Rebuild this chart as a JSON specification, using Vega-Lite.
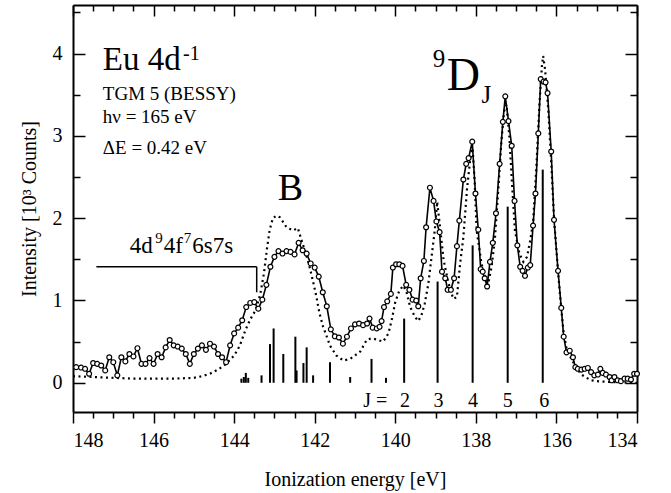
{
  "$schema": "https://vega.github.io/schema/vega-lite/v6.json",
  "width": 564,
  "height": 407,
  "autosize": {"type": "none"},
  "padding": {"left": 73, "top": 5, "right": 34, "bottom": 81},
  "background": "white",
  "config": {
    "view": {"stroke": null},
    "axis": {"labelFont": "Liberation Serif", "titleFont": "Liberation Serif", "labelFontSize": 20, "titleFontSize": 20, "titleFontWeight": "normal", "labelColor": "black", "titleColor": "black", "tickColor": "black", "tickWidth": 1.5, "domain": true, "domainColor": "black", "domainWidth": 2, "grid": false},
    "text": {"font": "Liberation Serif", "color": "black"}
  },
  "datasets": {
    "measured": [
      {"E":147.92,"I":0.19},{"E":147.8,"I":0.185},{"E":147.7,"I":0.17},{"E":147.6,"I":0.11},{"E":147.5,"I":0.24},{"E":147.4,"I":0.23},{"E":147.3,"I":0.21},{"E":147.2,"I":0.15},{"E":147.1,"I":0.31},{"E":147.0,"I":0.25},
      {"E":146.9,"I":0.09},{"E":146.8,"I":0.31},{"E":146.7,"I":0.26},{"E":146.6,"I":0.35},{"E":146.5,"I":0.32},{"E":146.4,"I":0.42},{"E":146.3,"I":0.23},{"E":146.2,"I":0.23},{"E":146.1,"I":0.30},{"E":146.0,"I":0.23},
      {"E":145.9,"I":0.35},{"E":145.8,"I":0.31},{"E":145.7,"I":0.43},{"E":145.6,"I":0.52},{"E":145.5,"I":0.455},{"E":145.4,"I":0.44},{"E":145.3,"I":0.415},{"E":145.2,"I":0.35},{"E":145.1,"I":0.23},{"E":145.0,"I":0.35},
      {"E":144.9,"I":0.415},{"E":144.8,"I":0.455},{"E":144.7,"I":0.40},{"E":144.6,"I":0.475},{"E":144.5,"I":0.44},{"E":144.4,"I":0.35},{"E":144.3,"I":0.31},{"E":144.2,"I":0.25},{"E":144.1,"I":0.455},{"E":144.0,"I":0.60},
      {"E":143.9,"I":0.67},{"E":143.8,"I":0.76},{"E":143.7,"I":0.92},{"E":143.6,"I":0.97},{"E":143.5,"I":0.98},{"E":143.4,"I":0.90},{"E":143.3,"I":1.01},{"E":143.2,"I":1.19},{"E":143.1,"I":1.41},{"E":143.0,"I":1.53},
      {"E":142.9,"I":1.60},{"E":142.8,"I":1.57},{"E":142.7,"I":1.60},{"E":142.6,"I":1.59},{"E":142.5,"I":1.56},{"E":142.4,"I":1.70},{"E":142.3,"I":1.61},{"E":142.2,"I":1.57},{"E":142.1,"I":1.45},{"E":142.0,"I":1.40},
      {"E":141.9,"I":1.29},{"E":141.8,"I":1.10},{"E":141.7,"I":0.93},{"E":141.6,"I":0.65},{"E":141.5,"I":0.565},{"E":141.4,"I":0.55},{"E":141.3,"I":0.475},{"E":141.2,"I":0.56},{"E":141.1,"I":0.66},{"E":141.0,"I":0.71},
      {"E":140.9,"I":0.72},{"E":140.8,"I":0.70},{"E":140.7,"I":0.72},{"E":140.64,"I":0.78},{"E":140.56,"I":0.67},{"E":140.46,"I":0.66},{"E":140.39,"I":0.68},{"E":140.34,"I":0.75},{"E":140.28,"I":0.92},{"E":140.2,"I":0.99},
      {"E":140.11,"I":1.08},{"E":140.06,"I":1.40},{"E":139.98,"I":1.44},{"E":139.9,"I":1.44},{"E":139.82,"I":1.42},{"E":139.73,"I":1.19},{"E":139.65,"I":1.13},{"E":139.57,"I":1.01},{"E":139.48,"I":1.00},{"E":139.43,"I":0.93},
      {"E":139.37,"I":1.27},{"E":139.29,"I":1.48},{"E":139.235,"I":1.89},{"E":139.14,"I":2.37},{"E":139.05,"I":2.21},{"E":138.98,"I":1.96},{"E":138.9,"I":1.83},{"E":138.84,"I":1.35},{"E":138.76,"I":1.27},{"E":138.7,"I":1.13},
      {"E":138.62,"I":1.13},{"E":138.54,"I":1.27},{"E":138.47,"I":1.66},{"E":138.41,"I":1.97},{"E":138.31,"I":2.47},{"E":138.24,"I":2.66},{"E":138.18,"I":2.73},{"E":138.09,"I":2.93},{"E":138.01,"I":2.30},{"E":137.94,"I":1.86},
      {"E":137.88,"I":1.38},{"E":137.83,"I":1.35},{"E":137.78,"I":1.27},{"E":137.72,"I":1.17},{"E":137.65,"I":1.47},{"E":137.58,"I":1.70},{"E":137.5,"I":2.06},{"E":137.41,"I":2.66},{"E":137.33,"I":3.17},{"E":137.27,"I":3.48},
      {"E":137.19,"I":3.18},{"E":137.11,"I":2.88},{"E":137.04,"I":2.21},{"E":136.97,"I":1.67},{"E":136.9,"I":1.41},{"E":136.84,"I":1.36},{"E":136.78,"I":1.30},{"E":136.71,"I":1.40},{"E":136.65,"I":1.43},{"E":136.58,"I":1.91},
      {"E":136.52,"I":2.30},{"E":136.45,"I":3.03},{"E":136.39,"I":3.69},{"E":136.32,"I":3.66},{"E":136.27,"I":3.65},{"E":136.22,"I":3.52},{"E":136.13,"I":2.81},{"E":136.06,"I":1.98},{"E":135.96,"I":1.36},{"E":135.88,"I":0.91},
      {"E":135.82,"I":0.56},{"E":135.75,"I":0.37},{"E":135.67,"I":0.39},{"E":135.59,"I":0.31},{"E":135.53,"I":0.19},{"E":135.47,"I":0.17},{"E":135.38,"I":0.16},{"E":135.3,"I":0.17},{"E":135.22,"I":0.18},{"E":135.14,"I":0.13},
      {"E":135.06,"I":0.09},{"E":134.97,"I":0.10},{"E":134.91,"I":0.17},{"E":134.85,"I":0.12},{"E":134.77,"I":0.10},{"E":134.68,"I":0.07},{"E":134.63,"I":0.03},{"E":134.56,"I":0.07},{"E":134.48,"I":0.03},{"E":134.4,"I":0.02},
      {"E":134.31,"I":0.05},{"E":134.23,"I":0.05},{"E":134.15,"I":0.04},{"E":134.07,"I":0.11},{"E":134.0,"I":0.11}
    ],
    "theory": [
      {"E":148,"I":0.08},{"E":147.5,"I":0.07},{"E":147,"I":0.06},{"E":146.5,"I":0.05},{"E":146,"I":0.05},{"E":145.5,"I":0.05},{"E":145,"I":0.06},{"E":144.8,"I":0.08},{"E":144.6,"I":0.11},{"E":144.4,"I":0.16},
      {"E":144.2,"I":0.23},{"E":144.0,"I":0.33},{"E":143.86,"I":0.45},{"E":143.72,"I":0.64},{"E":143.6,"I":0.77},{"E":143.47,"I":0.88},{"E":143.35,"I":1.08},{"E":143.26,"I":1.33},{"E":143.18,"I":1.65},{"E":143.12,"I":1.85},
      {"E":143.04,"I":2.0},{"E":142.95,"I":2.03},{"E":142.86,"I":2.01},{"E":142.78,"I":1.95},{"E":142.7,"I":1.89},{"E":142.54,"I":1.85},{"E":142.42,"I":1.88},{"E":142.3,"I":1.69},{"E":142.17,"I":1.49},{"E":142.05,"I":1.25},
      {"E":141.96,"I":1.05},{"E":141.88,"I":0.84},{"E":141.79,"I":0.68},{"E":141.7,"I":0.56},{"E":141.62,"I":0.45},{"E":141.46,"I":0.33},{"E":141.29,"I":0.27},{"E":141.12,"I":0.29},{"E":140.95,"I":0.35},{"E":140.87,"I":0.38},
      {"E":140.71,"I":0.52},{"E":140.6,"I":0.54},{"E":140.5,"I":0.53},{"E":140.3,"I":0.50},{"E":140.17,"I":0.60},{"E":140.09,"I":0.76},{"E":140.0,"I":0.98},{"E":139.9,"I":1.12},{"E":139.8,"I":1.18},{"E":139.72,"I":1.10},
      {"E":139.63,"I":0.92},{"E":139.51,"I":0.80},{"E":139.43,"I":0.75},{"E":139.35,"I":0.82},{"E":139.27,"I":0.96},{"E":139.18,"I":1.20},{"E":139.1,"I":1.53},{"E":139.02,"I":1.85},{"E":138.96,"I":2.2},{"E":138.88,"I":1.85},
      {"E":138.8,"I":1.49},{"E":138.68,"I":1.21},{"E":138.56,"I":1.02},{"E":138.47,"I":1.04},{"E":138.39,"I":1.45},{"E":138.31,"I":1.77},{"E":138.22,"I":2.35},{"E":138.14,"I":2.72},{"E":138.08,"I":2.85},{"E":138.03,"I":2.45},
      {"E":137.98,"I":1.85},{"E":137.86,"I":1.45},{"E":137.75,"I":1.25},{"E":137.69,"I":1.21},{"E":137.61,"I":1.41},{"E":137.53,"I":1.73},{"E":137.45,"I":2.3},{"E":137.37,"I":2.9},{"E":137.3,"I":3.3},{"E":137.24,"I":3.38},
      {"E":137.17,"I":3.0},{"E":137.1,"I":2.4},{"E":137.03,"I":1.85},{"E":136.92,"I":1.57},{"E":136.82,"I":1.47},{"E":136.73,"I":1.53},{"E":136.65,"I":1.73},{"E":136.58,"I":1.95},{"E":136.5,"I":2.6},{"E":136.42,"I":3.4},
      {"E":136.36,"I":3.85},{"E":136.33,"I":3.97},{"E":136.28,"I":3.8},{"E":136.2,"I":3.3},{"E":136.12,"I":2.6},{"E":136.06,"I":2.0},{"E":135.96,"I":1.35},{"E":135.88,"I":0.9},{"E":135.82,"I":0.6},{"E":135.75,"I":0.42},
      {"E":135.63,"I":0.29},{"E":135.5,"I":0.18},{"E":135.38,"I":0.10},{"E":135.25,"I":0.06},{"E":135.14,"I":0.03},{"E":135.0,"I":0.02},{"E":134.7,"I":0.01},{"E":134.0,"I":0.0}
    ],
    "sticks": [
      {"E":143.82,"I":0.05},{"E":143.76,"I":0.07},{"E":143.71,"I":0.12},{"E":143.65,"I":0.06},{"E":143.32,"I":0.09},{"E":143.11,"I":0.47},{"E":143.02,"I":0.66},{"E":142.78,"I":0.35},{"E":142.48,"I":0.56},{"E":142.45,"I":0.15},
      {"E":142.28,"I":0.24},{"E":142.2,"I":0.43},{"E":142.04,"I":0.09},{"E":141.62,"I":0.25},{"E":141.12,"I":0.07},{"E":140.59,"I":0.29},{"E":140.23,"I":0.06},{"E":139.78,"I":0.78},{"E":138.95,"I":1.23},{"E":138.08,"I":1.67},
      {"E":137.21,"I":2.14},{"E":136.34,"I":2.59}
    ]
  },
  "resolve": {"axis": {"x": "independent", "y": "independent"}},
  "layer": [
    {
      "data": {"name": "theory"},
      "mark": {"type": "line", "color": "black", "strokeWidth": 2.2, "strokeDash": [2, 3.5]},
      "encoding": {
        "x": {"field": "E", "type": "quantitative", "scale": {"domain": [134, 148], "reverse": true, "nice": false, "zero": false},
              "axis": {"orient": "top", "values": [134,136,138,140,142,144,146,148], "tickSize": -11, "labels": false, "title": null}},
        "y": {"field": "I", "type": "quantitative", "scale": {"domain": [-0.355, 4.59], "nice": false, "zero": false},
              "axis": {"orient": "right", "values": [0,1,2,3,4], "tickSize": -12, "labels": false, "title": null}}
      }
    },
    {
      "data": {"name": "sticks"},
      "mark": {"type": "rule", "color": "black", "strokeWidth": 2},
      "encoding": {
        "x": {"field": "E", "type": "quantitative", "scale": {"domain": [134, 148], "reverse": true, "nice": false, "zero": false},
              "axis": {"orient": "top", "domain": false, "values": [134.5,135,135.5,136.5,137,137.5,138.5,139,139.5,140.5,141,141.5,142.5,143,143.5,144.5,145,145.5,146.5,147,147.5], "tickSize": -6, "labels": false, "title": null}},
        "y": {"field": "I", "type": "quantitative", "scale": {"domain": [-0.355, 4.59], "nice": false, "zero": false},
              "axis": {"orient": "right", "domain": false, "values": [0.5,1.5,2.5,3.5,4.5], "tickSize": -7, "labels": false, "title": null}},
        "y2": {"datum": 0}
      }
    },
    {
      "data": {"name": "measured"},
      "mark": {"type": "line", "color": "black", "strokeWidth": 1.6},
      "encoding": {
        "x": {"field": "E", "type": "quantitative", "scale": {"domain": [134, 148], "reverse": true, "nice": false, "zero": false},
              "axis": {"orient": "bottom", "values": [134,136,138,140,142,144,146,148], "tickSize": 11, "labelPadding": 7, "labelFont": "Liberation Serif", "labelFontSize": 20, "title": "Ionization energy [eV]", "titleFont": "Liberation Serif", "titlePadding": 19}},
        "y": {"field": "I", "type": "quantitative", "scale": {"domain": [-0.355, 4.59], "nice": false, "zero": false},
              "axis": {"orient": "left", "values": [0,1,2,3,4], "tickSize": -12, "labelPadding": 23, "labelFont": "Liberation Serif", "labelFontSize": 20, "title": "Intensity [10³ Counts]", "titleFont": "Liberation Serif", "titlePadding": 13}}
      }
    },
    {
      "data": {"name": "measured"},
      "mark": {"type": "point", "shape": "circle", "filled": true, "fill": "white", "stroke": "black", "strokeWidth": 1.2, "size": 24, "opacity": 1},
      "encoding": {
        "x": {"field": "E", "type": "quantitative", "scale": {"domain": [134, 148], "reverse": true, "nice": false, "zero": false},
              "axis": {"orient": "bottom", "domain": false, "values": [134.5,135,135.5,136.5,137,137.5,138.5,139,139.5,140.5,141,141.5,142.5,143,143.5,144.5,145,145.5,146.5,147,147.5], "tickSize": 6, "labels": false, "title": null}},
        "y": {"field": "I", "type": "quantitative", "scale": {"domain": [-0.355, 4.59], "nice": false, "zero": false},
              "axis": {"orient": "left", "domain": false, "values": [0.5,1.5,2.5,3.5,4.5], "tickSize": -7, "labels": false, "title": null}}
      }
    },
    {
      "mark": {"type": "rule", "color": "black", "strokeWidth": 2},
      "encoding": {"y": {"datum": 0, "type": "quantitative", "scale": {"domain": [-0.355, 4.59], "nice": false, "zero": false}, "axis": null}}
    },
    {
      "data": {"values": [{"E":147.42,"E2":143.44,"I":1.41,"I2":1.41},{"E":143.44,"E2":143.44,"I":1.41,"I2":1.10}]},
      "mark": {"type": "rule", "color": "black", "strokeWidth": 1.5},
      "encoding": {
        "x": {"field": "E", "type": "quantitative", "scale": {"domain": [134, 148], "reverse": true, "nice": false, "zero": false}, "axis": null},
        "x2": {"field": "E2"},
        "y": {"field": "I", "type": "quantitative", "scale": {"domain": [-0.355, 4.59], "nice": false, "zero": false}, "axis": null},
        "y2": {"field": "I2"}
      }
    },
    {
      "data": {"values": [{"E":147.26,"I":3.80,"T":"Eu 4d"}]},
      "mark": {"type": "text", "align": "left", "baseline": "alphabetic", "fontSize": 33},
      "encoding": {"x": {"field": "E", "type": "quantitative", "axis": null}, "y": {"field": "I", "type": "quantitative", "axis": null}, "text": {"field": "T"}}
    },
    {
      "data": {"values": [{"E":145.27,"I":3.92,"T":"-1"}]},
      "mark": {"type": "text", "align": "left", "baseline": "alphabetic", "fontSize": 20},
      "encoding": {"x": {"field": "E", "type": "quantitative", "axis": null}, "y": {"field": "I", "type": "quantitative", "axis": null}, "text": {"field": "T"}}
    },
    {
      "data": {"values": [{"E":147.26,"I":3.43,"T":"TGM 5 (BESSY)"},{"E":147.26,"I":3.16,"T":"hν = 165 eV"},{"E":147.26,"I":2.78,"T":"ΔE = 0.42 eV"}]},
      "mark": {"type": "text", "align": "left", "baseline": "alphabetic", "fontSize": 19},
      "encoding": {"x": {"field": "E", "type": "quantitative", "axis": null}, "y": {"field": "I", "type": "quantitative", "axis": null}, "text": {"field": "T"}}
    },
    {
      "data": {"values": [{"E":142.6,"I":2.22,"T":"B"}]},
      "mark": {"type": "text", "align": "center", "baseline": "alphabetic", "fontSize": 38},
      "encoding": {"x": {"field": "E", "type": "quantitative", "axis": null}, "y": {"field": "I", "type": "quantitative", "axis": null}, "text": {"field": "T"}}
    },
    {
      "data": {"values": [{"E":146.59,"I":1.58,"T":"4d"},{"E":145.75,"I":1.58,"T":"4f"},{"E":145.04,"I":1.58,"T":"6s7s"}]},
      "mark": {"type": "text", "align": "left", "baseline": "alphabetic", "fontSize": 23},
      "encoding": {"x": {"field": "E", "type": "quantitative", "axis": null}, "y": {"field": "I", "type": "quantitative", "axis": null}, "text": {"field": "T"}}
    },
    {
      "data": {"values": [{"E":145.96,"I":1.70,"T":"9"},{"E":145.25,"I":1.70,"T":"7"}]},
      "mark": {"type": "text", "align": "left", "baseline": "alphabetic", "fontSize": 15},
      "encoding": {"x": {"field": "E", "type": "quantitative", "axis": null}, "y": {"field": "I", "type": "quantitative", "axis": null}, "text": {"field": "T"}}
    },
    {
      "data": {"values": [{"E":139.07,"I":3.84,"T":"9"},{"E":137.86,"I":3.40,"T":"J"}]},
      "mark": {"type": "text", "align": "left", "baseline": "alphabetic", "fontSize": 25},
      "encoding": {"x": {"field": "E", "type": "quantitative", "axis": null}, "y": {"field": "I", "type": "quantitative", "axis": null}, "text": {"field": "T"}}
    },
    {
      "data": {"values": [{"E":138.72,"I":3.556,"T":"D"}]},
      "mark": {"type": "text", "align": "left", "baseline": "alphabetic", "fontSize": 46},
      "encoding": {"x": {"field": "E", "type": "quantitative", "axis": null}, "y": {"field": "I", "type": "quantitative", "axis": null}, "text": {"field": "T"}}
    },
    {
      "data": {"values": [{"E":140.2,"I":-0.294,"T":"J ="}]},
      "mark": {"type": "text", "align": "right", "baseline": "alphabetic", "fontSize": 20},
      "encoding": {"x": {"field": "E", "type": "quantitative", "axis": null}, "y": {"field": "I", "type": "quantitative", "axis": null}, "text": {"field": "T"}}
    },
    {
      "data": {"values": [{"E":139.76,"I":-0.294,"T":"2"},{"E":138.93,"I":-0.294,"T":"3"},{"E":138.07,"I":-0.294,"T":"4"},{"E":137.21,"I":-0.294,"T":"5"},{"E":136.3,"I":-0.294,"T":"6"}]},
      "mark": {"type": "text", "align": "center", "baseline": "alphabetic", "fontSize": 20},
      "encoding": {"x": {"field": "E", "type": "quantitative", "axis": null}, "y": {"field": "I", "type": "quantitative", "axis": null}, "text": {"field": "T"}}
    }
  ]
}
